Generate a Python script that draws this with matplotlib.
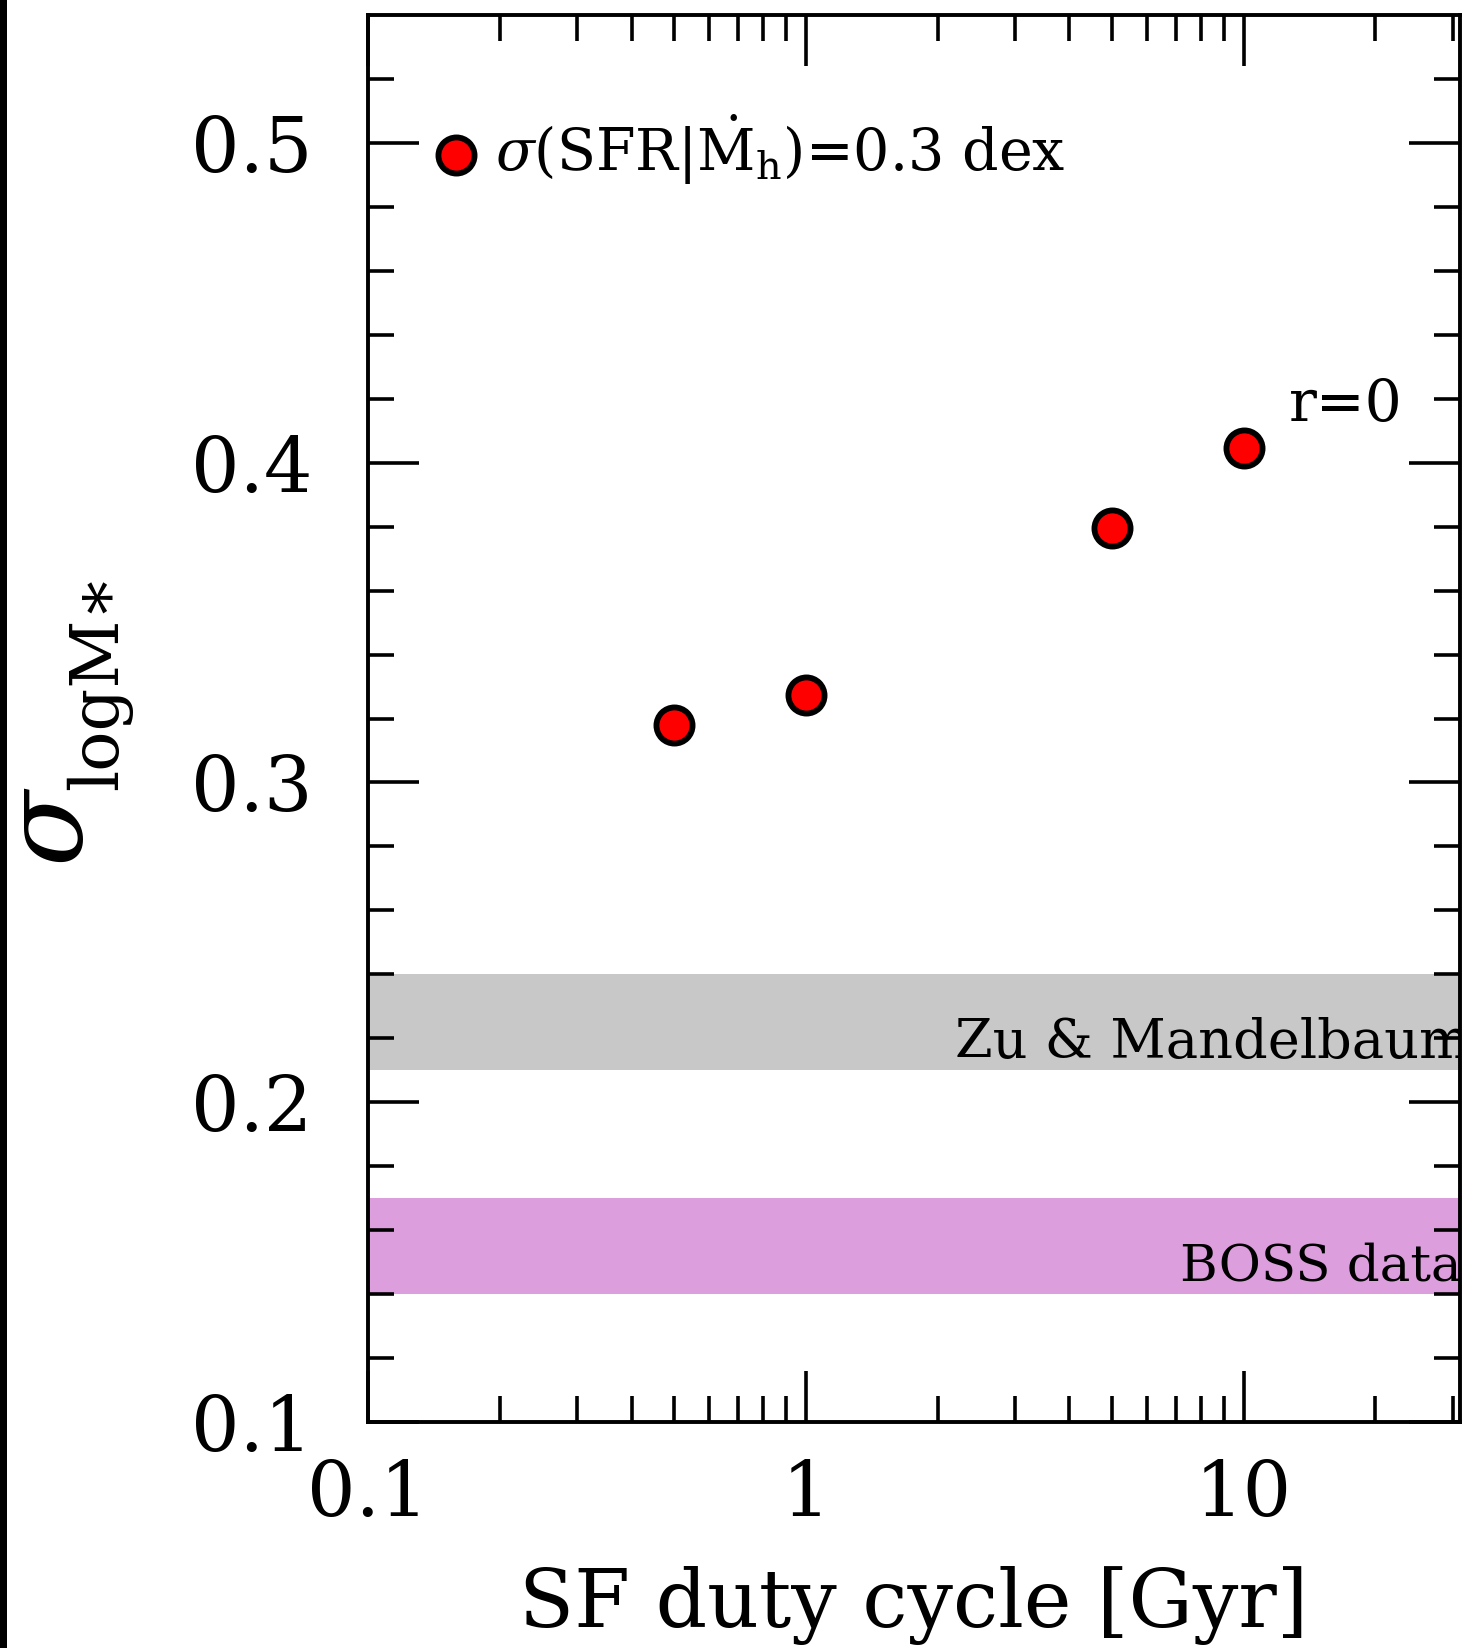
import matplotlib
matplotlib.use("Agg")
import matplotlib.pyplot as plt
from matplotlib.patches import Rectangle
from matplotlib.ticker import FixedLocator, LogLocator, NullFormatter, FixedFormatter

plt.rcParams["font.family"] = ["DejaVu Serif"]
plt.rcParams["mathtext.fontset"] = "dejavuserif"

# data
duty_cycle = [0.5, 1.0, 5.0, 10.0]          # Gyr
sigma_logm = [0.318, 0.3275, 0.3795, 0.4046]
legend_point = (0.159, 0.4963)
zu_band = (0.21, 0.24)
boss_band = (0.14, 0.17)
x_ticks = [0.1, 1, 10]
x_ticklabels = ["0.1", "1", "10"]
y_ticks = [0.1, 0.2, 0.3, 0.4, 0.5]
y_ticklabels = ["0.1", "0.2", "0.3", "0.4", "0.5"]

W, H = 1463, 1648
fig = plt.figure(figsize=(W / 100, H / 100), dpi=100)
ax = fig.add_axes([368 / W, 1 - 1422 / H, 1092 / W, 1407 / H])

# thin black strip on the left edge of the original image
fig.patches.append(Rectangle((0, 0), 7 / W, 1, transform=fig.transFigure,
                             facecolor="black", edgecolor="none"))

ax.set_xscale("log")
ax.set_xlim(0.1, 31.2)
ax.set_ylim(0.1, 0.54)

ax.axhspan(*zu_band, color="#c8c8c8", lw=0, zorder=1)
ax.axhspan(*boss_band, color="#dd9edd", lw=0, zorder=1)

ax.plot(duty_cycle, sigma_logm, "o", ms=26, mfc="red", mec="black", mew=4.2,
        zorder=3)
ax.plot(*legend_point, "o", ms=26, mfc="red", mec="black", mew=4.2,
        clip_on=False, zorder=3)

ax.text(0.195, 0.4911, r"$\sigma$(SFR|$\dot{\rm M}_{\rm h}$)=0.3 dex",
        fontsize=41, va="baseline", ha="left")
ax.text(12.7, 0.4129, "r=0", fontsize=42, va="baseline", ha="left")
ax.text(2.19, 0.2138, "Zu & Mandelbaum", fontsize=39, va="baseline",
        ha="left", clip_on=True, zorder=2)
ax.text(7.14, 0.1443, "BOSS data", fontsize=37, va="baseline", ha="left",
        clip_on=True, zorder=2)

# ticks
ax.xaxis.set_major_locator(FixedLocator(x_ticks))
ax.xaxis.set_major_formatter(FixedFormatter(x_ticklabels))
ax.xaxis.set_minor_locator(LogLocator(base=10, subs=range(2, 10)))
ax.xaxis.set_minor_formatter(NullFormatter())
ax.yaxis.set_major_locator(FixedLocator(y_ticks))
ax.yaxis.set_major_formatter(FixedFormatter(y_ticklabels))
ax.yaxis.set_minor_locator(FixedLocator([0.12, 0.14, 0.16, 0.18, 0.22, 0.24,
                                         0.26, 0.28, 0.32, 0.34, 0.36, 0.38,
                                         0.42, 0.44, 0.46, 0.48, 0.52]))

ax.tick_params(which="both", direction="in", top=True, right=True,
               width=2.6, color="black")
ax.tick_params(which="major", length=37, labelsize=55)
ax.tick_params(which="minor", length=19)
ax.tick_params(axis="y", which="major", pad=40)
ax.tick_params(axis="x", which="major", pad=26)
for s in ax.spines.values():
    s.set_linewidth(2.8)
    s.set_zorder(4)

ax.set_xlabel("SF duty cycle [Gyr]", fontsize=58)
ax.xaxis.set_label_coords(0.5, -0.102)

# y label: large sigma with a lowered subscript
fig.text(82 / W, 1 - 867 / H, r"$\sigma$", fontsize=80, rotation=90,
         rotation_mode="anchor", ha="left", va="baseline")
fig.text(117 / W, 1 - 790 / H, "logM\u2217", fontsize=48, rotation=90,
         rotation_mode="anchor", ha="left", va="baseline")

fig.savefig("out.png", dpi=100)
